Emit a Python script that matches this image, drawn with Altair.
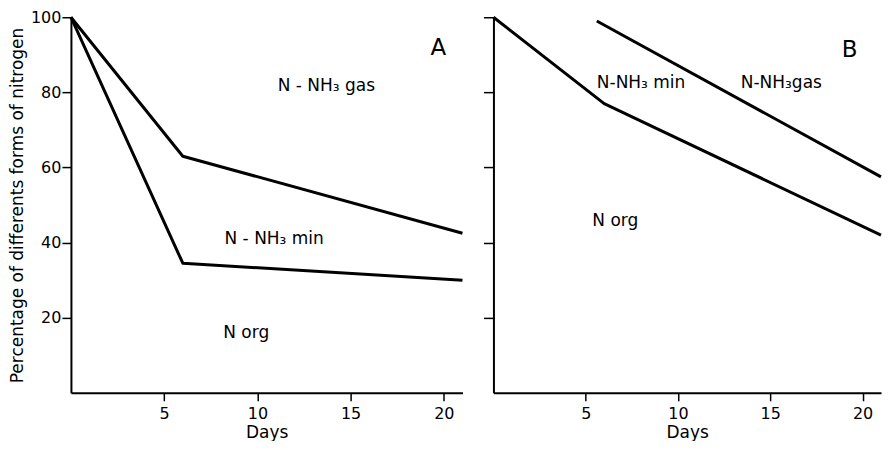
import altair as alt
import pandas as pd

# Panel A boundaries between nitrogen forms (% of initial N)
a_days = [0, 6, 21]
a_gas_boundary = [100, 63, 42.5]
a_min_boundary = [100, 34.5, 30]

# Panel B boundaries
b_min_days = [0, 6, 21]
b_min_boundary = [100, 77, 42]
b_gas_days = [5.6, 21]
b_gas_boundary = [99, 57.5]

# Region labels (data coordinates)
a_label_text = ["N - NH₃ gas", "N - NH₃ min", "N org"]
a_label_x = [13.7, 10.9, 9.4]
a_label_y = [81.6, 41, 16]
b_label_text = ["N-NH₃ min", "N-NH₃gas", "N org"]
b_label_x = [8.0, 15.6, 6.6]
b_label_y = [82.6, 82.6, 45.7]
panel_letters = ["A", "B"]
letter_x = [19.7, 19.3]
letter_y = [91.8, 91.4]

x_ticks = [5, 10, 15, 20]
y_ticks = [20, 40, 60, 80, 100]

FONT = "DejaVu Sans"


def lines_df(parts):
    rows = []
    for name, xs, ys in parts:
        for x, y in zip(xs, ys):
            rows.append({"series": name, "day": x, "pct": y})
    return pd.DataFrame(rows)


def panel(ldf, tdf, letter_df, show_y_labels, width):
    x = alt.X(
        "day:Q",
        scale=alt.Scale(domain=[0, 21], nice=False, zero=False),
        axis=alt.Axis(
            values=x_ticks, title="Days", grid=False, tickSize=8,
            labelFontSize=16, titleFontSize=17, titleFontWeight="normal",
            labelFont=FONT, titleFont=FONT, domainColor="black", domainWidth=2,
            tickColor="black", tickWidth=1.5, labelColor="black", titleColor="black",
            labelPadding=5, titlePadding=3,
        ),
    )
    if show_y_labels:
        yaxis = alt.Axis(
            values=y_ticks, title="Percentage of differents forms of nitrogen",
            grid=False, tickSize=9, labelFontSize=16, titleFontSize=17,
            titleFontWeight="normal", labelFont=FONT, titleFont=FONT,
            domainColor="black", domainWidth=2, tickColor="black", tickWidth=1.5,
            labelColor="black", titleColor="black", labelPadding=1, titlePadding=4,
        )
    else:
        yaxis = alt.Axis(
            values=y_ticks, title=None, labels=False, grid=False, tickSize=10,
            domainColor="black", domainWidth=2, tickColor="black", tickWidth=1.5,
        )
    y = alt.Y("pct:Q", scale=alt.Scale(domain=[0, 100], nice=False), axis=yaxis)

    lines = alt.Chart(ldf).mark_line(color="black", strokeWidth=3, strokeJoin="round").encode(
        x=x, y=y, detail="series:N"
    )
    texts = alt.Chart(tdf).mark_text(
        font=FONT, fontSize=17, color="black", align="center", baseline="middle"
    ).encode(x="day:Q", y="pct:Q", text="label:N")
    letter = alt.Chart(letter_df).mark_text(
        font=FONT, fontSize=23, color="black", align="center", baseline="middle"
    ).encode(x="day:Q", y="pct:Q", text="label:N")
    return alt.layer(lines, texts, letter).properties(
        width=width, height=376, view=alt.ViewConfig(strokeWidth=0)
    )


a_lines = lines_df([("gas", a_days, a_gas_boundary), ("min", a_days, a_min_boundary)])
b_lines = lines_df([("min", b_min_days, b_min_boundary), ("gas", b_gas_days, b_gas_boundary)])
a_text = pd.DataFrame({"day": a_label_x, "pct": a_label_y, "label": a_label_text})
b_text = pd.DataFrame({"day": b_label_x, "pct": b_label_y, "label": b_label_text})
a_letter = pd.DataFrame({"day": [letter_x[0]], "pct": [letter_y[0]], "label": [panel_letters[0]]})
b_letter = pd.DataFrame({"day": [letter_x[1]], "pct": [letter_y[1]], "label": [panel_letters[1]]})

chart = alt.hconcat(
    panel(a_lines, a_text, a_letter, True, 392),
    panel(b_lines, b_text, b_letter, False, 388),
    spacing=18,
).properties(
    padding={"left": 0, "top": 1, "right": 0, "bottom": 0}
).configure_view(strokeWidth=0).configure(background="white")

chart.save("out.html", embed_options={"renderer": "svg", "actions": False})
